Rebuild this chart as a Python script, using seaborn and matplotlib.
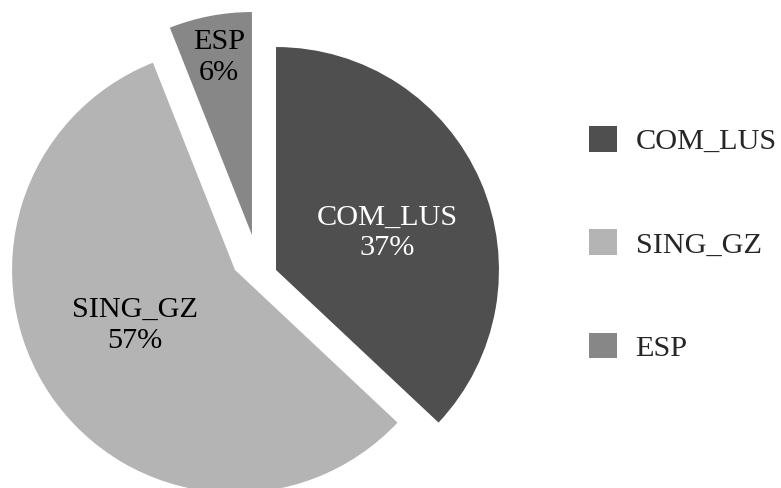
import matplotlib.pyplot as plt
import seaborn as sns

# data
categories = ["COM_LUS", "SING_GZ", "ESP"]
shares = [37, 57, 6]
colors = ["#4f4f4f", "#b4b4b4", "#878787"]
label_colors = ["white", "black", "black"]

sns.set_style("white")
plt.rcParams["font.family"] = ["Liberation Serif", "DejaVu Serif"]

fig = plt.figure(figsize=(7.81, 4.88), dpi=100)
ax = fig.add_axes([0, 0, 1, 1])

wedges, _ = ax.pie(shares, colors=colors, startangle=90, counterclock=False,
                   radius=1, wedgeprops=dict(linewidth=0))

# how far each slice is pulled out from the common centre (radius units)
slice_shift = [(0.0, 0.0), (-0.184, 0.0), (-0.108, 0.157)]
# where each label sits, relative to its own slice centre
label_pos = [(0.498, 0.166), (-0.448, -0.247), (-0.148, 0.794)]

for w, (sx, sy), (lx, ly), cat, pct, tc in zip(wedges, slice_shift, label_pos,
                                               categories, shares, label_colors):
    w.set_center((sx, sy))
    ax.text(sx + lx, sy + ly, f"{cat}\n{pct}%", ha="center", va="center",
            fontsize=21.8, color=tc, linespacing=1.25)

ax.set_xlim(-1.238, 2.265)
ax.set_ylim(-0.978, 1.211)
ax.set_aspect("equal")
ax.axis("off")

fig.legend(wedges, categories, loc="center left", bbox_to_anchor=(589 / 781, 0.5),
           frameon=False, fontsize=21.8, handlelength=0.92, handleheight=0.92,
           handletextpad=0.62, labelspacing=2.45, borderpad=0, borderaxespad=0)

plt.savefig("out.png", dpi=100)
